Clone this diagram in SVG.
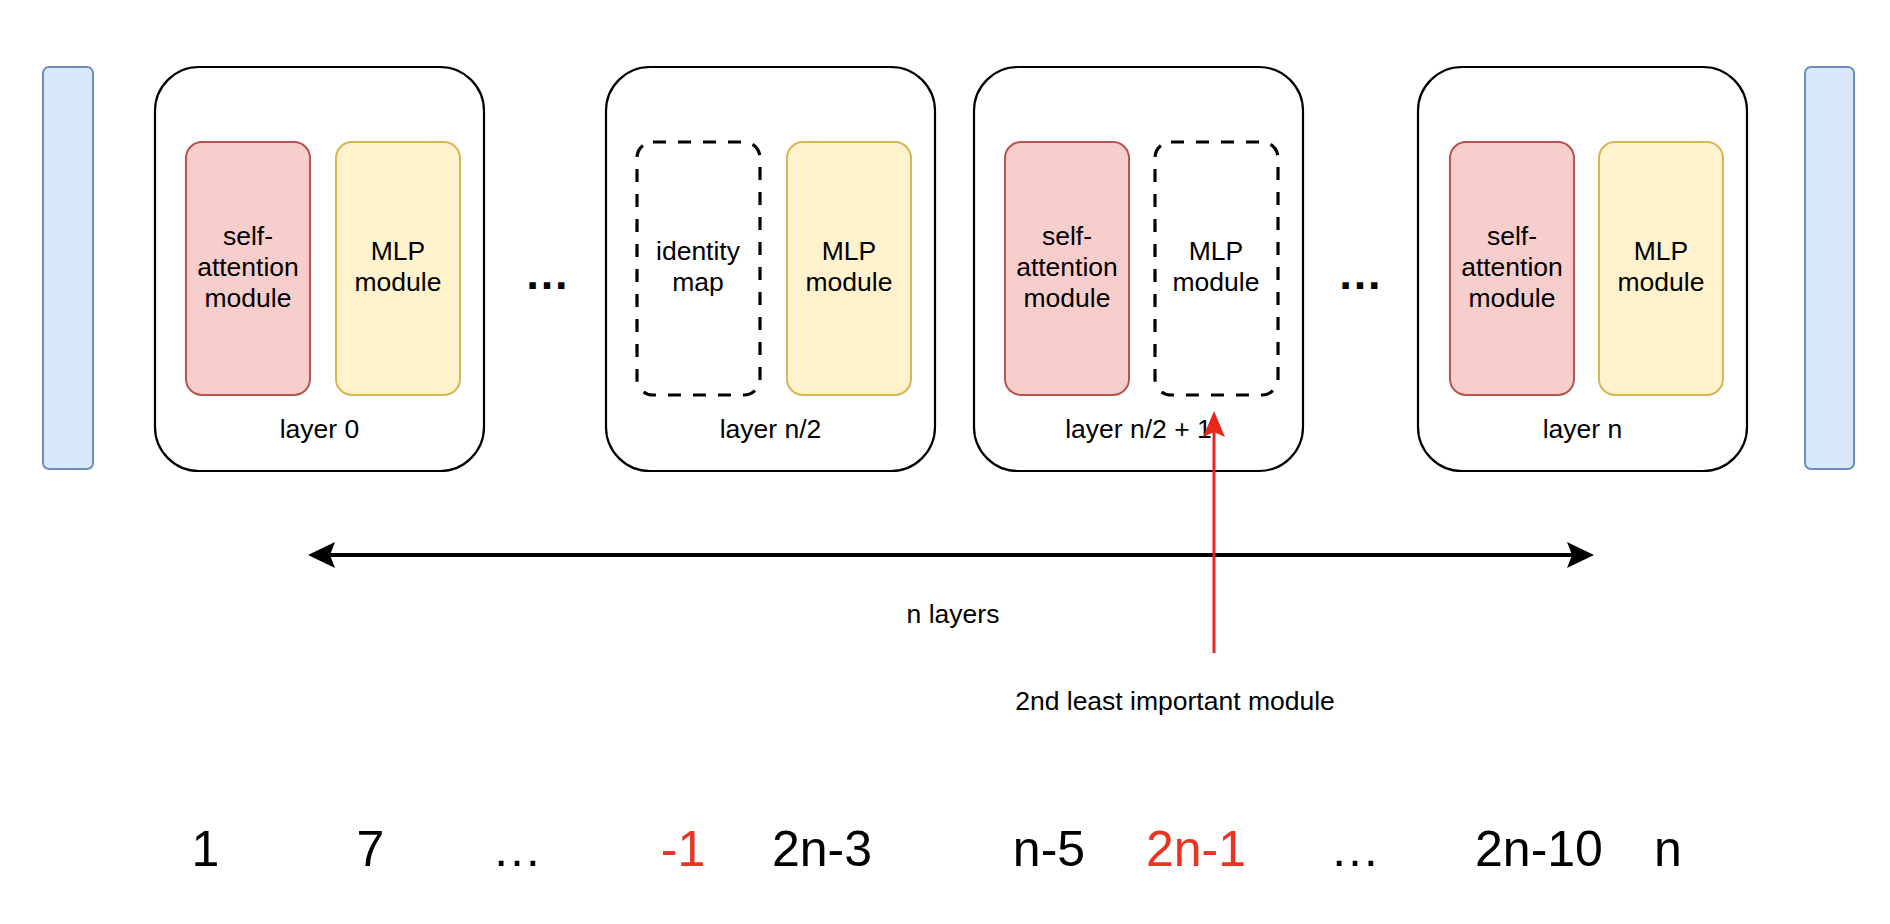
<svg xmlns="http://www.w3.org/2000/svg" width="1890" height="924" viewBox="0 0 1890 924">
<style>
text{font-family:"Liberation Sans",Arial,Helvetica,sans-serif;fill:#000;text-anchor:middle}
.lbl{font-size:26.5px}
.num{font-size:50px}
.red{fill:#EA3323}
.dots{font-size:45px;font-weight:bold}
.bar{fill:#dae8fc;stroke:#6c8ebf;stroke-width:2}
.layer{fill:#fff;stroke:#000;stroke-width:2.2}
.sa{fill:#f8cecc;stroke:#b85450;stroke-width:2}
.mlp{fill:#fff2cc;stroke:#d6b656;stroke-width:2}
.dash{fill:none;stroke:#000;stroke-width:3.2;stroke-dasharray:13 12}
</style>
<defs>
<marker id="ah" viewBox="0 0 27 26" markerWidth="27" markerHeight="26" refX="5" refY="13" markerUnits="userSpaceOnUse" orient="auto-start-reverse">
<path d="M0,0 L27,13 L0,26 L5,13 Z" fill="#000"/>
</marker>
<marker id="ahr" viewBox="0 0 26 22" markerWidth="26" markerHeight="22" refX="5" refY="11" markerUnits="userSpaceOnUse" orient="auto">
<path d="M0,0 L26,11 L0,22 L5,11 Z" fill="#E8261C"/>
</marker>
</defs>
<rect width="1890" height="924" fill="#fff"/>

<g id="input-bar"><rect class="bar" x="43" y="67" width="50" height="402" rx="6"/></g>
<g id="output-bar"><rect class="bar" x="1805" y="67" width="49" height="402" rx="6"/></g>

<g id="layer-0">
<rect class="layer" x="155" y="67" width="329" height="404" rx="44"/>
<rect class="sa" x="186" y="142" width="124" height="253" rx="16"/>
<text class="lbl" x="248" y="245">self-</text>
<text class="lbl" x="248" y="276">attention</text>
<text class="lbl" x="248" y="307">module</text>
<rect class="mlp" x="336" y="142" width="124" height="253" rx="16"/>
<text class="lbl" x="398" y="260">MLP</text>
<text class="lbl" x="398" y="291">module</text>
<text class="lbl" x="319.5" y="438">layer 0</text>
</g>

<g id="dots-1"><text class="dots" x="547" y="289">…</text></g>

<g id="layer-n2">
<rect class="layer" x="606" y="67" width="329" height="404" rx="44"/>
<rect class="dash" x="637" y="142" width="123" height="253" rx="16"/>
<text class="lbl" x="698" y="260">identity</text>
<text class="lbl" x="698" y="291">map</text>
<rect class="mlp" x="787" y="142" width="124" height="253" rx="16"/>
<text class="lbl" x="849" y="260">MLP</text>
<text class="lbl" x="849" y="291">module</text>
<text class="lbl" x="770.5" y="438">layer n/2</text>
</g>

<g id="layer-n2-1">
<rect class="layer" x="974" y="67" width="329" height="404" rx="44"/>
<rect class="sa" x="1005" y="142" width="124" height="253" rx="16"/>
<text class="lbl" x="1067" y="245">self-</text>
<text class="lbl" x="1067" y="276">attention</text>
<text class="lbl" x="1067" y="307">module</text>
<rect class="dash" x="1155" y="142" width="123" height="253" rx="16"/>
<text class="lbl" x="1216" y="260">MLP</text>
<text class="lbl" x="1216" y="291">module</text>
<text class="lbl" x="1138.5" y="438">layer n/2 + 1</text>
</g>

<g id="dots-2"><text class="dots" x="1360" y="289">…</text></g>

<g id="layer-n">
<rect class="layer" x="1418" y="67" width="329" height="404" rx="44"/>
<rect class="sa" x="1450" y="142" width="124" height="253" rx="16"/>
<text class="lbl" x="1512" y="245">self-</text>
<text class="lbl" x="1512" y="276">attention</text>
<text class="lbl" x="1512" y="307">module</text>
<rect class="mlp" x="1599" y="142" width="124" height="253" rx="16"/>
<text class="lbl" x="1661" y="260">MLP</text>
<text class="lbl" x="1661" y="291">module</text>
<text class="lbl" x="1582.5" y="438">layer n</text>
</g>

<g id="connectors">
<line x1="330" y1="555" x2="1572" y2="555" stroke="#000" stroke-width="4" marker-start="url(#ah)" marker-end="url(#ah)"/>
<line x1="1214" y1="653" x2="1214" y2="432" stroke="#E8261C" stroke-width="3" marker-end="url(#ahr)"/>
</g>

<g id="labels">
<text class="lbl" x="953" y="623">n layers</text>
<text class="lbl" x="1175" y="710">2nd least important module</text>
</g>

<g id="numbers">
<text class="num" x="205.5" y="866">1</text>
<text class="num" x="370.5" y="866">7</text>
<text class="num" x="517" y="866">…</text>
<text class="num red" x="683" y="866">-1</text>
<text class="num" x="822" y="866">2n-3</text>
<text class="num" x="1049" y="866">n-5</text>
<text class="num red" x="1196" y="866">2n-1</text>
<text class="num" x="1355" y="866">…</text>
<text class="num" x="1539" y="866">2n-10</text>
<text class="num" x="1668" y="866">n</text>
</g>
</svg>
